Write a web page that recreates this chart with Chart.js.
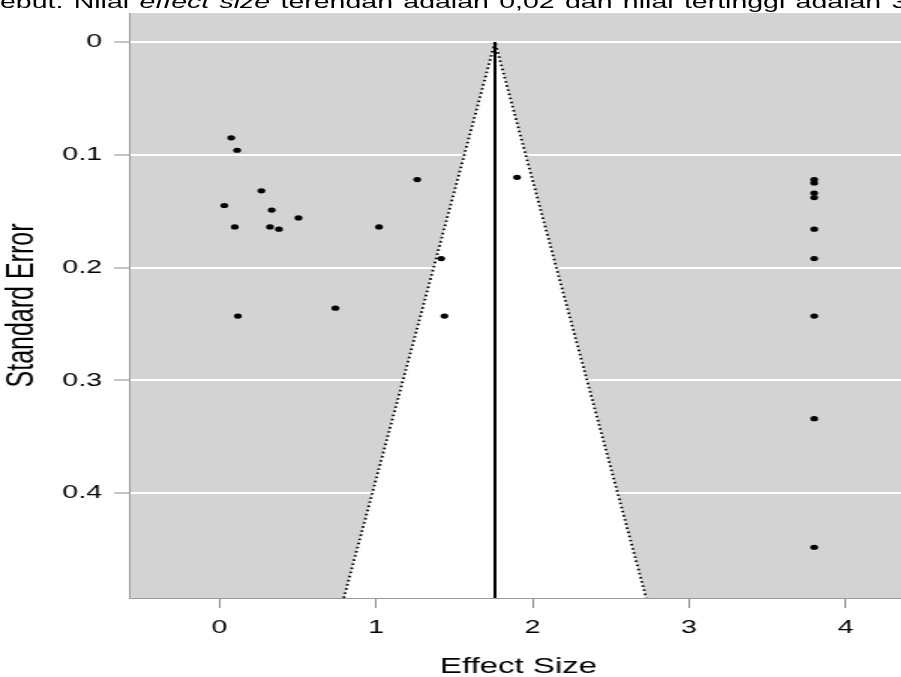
<!DOCTYPE html>
<html>
<head>
<meta charset="utf-8">
<script src="https://cdn.jsdelivr.net/npm/chart.js@4.4.1/dist/chart.umd.min.js"></script>
<style>
  html, body { margin: 0; padding: 0; background: #ffffff; overflow: hidden; width: 901px; height: 677px; }
  #stage { position: absolute; left: 0; top: 0; width: 608px; height: 677px; transform: scale(1.5, 1); transform-origin: 0 0; }
  #note { position: absolute; left: 0; top: -8.5px; white-space: nowrap; font-family: "Liberation Sans", Arial, sans-serif; font-size: 19px; line-height: 19px; color: #000; word-spacing: 1.6px; }
  #c { position: absolute; left: 0; top: 0; }
</style>
</head>
<body>
<div id="stage">
  <canvas id="c" width="608" height="677"></canvas>
  <div id="note">ebut. Nilai <i>effect size</i> terendah adalah 0,02 dan nilai tertinggi adalah 3,80</div>
</div>
<script>
// ---- data ----
const effectSize = [0.074, 0.112, 1.263, 1.901, 0.267, 0.030, 0.333, 0.504, 0.097, 0.322, 0.379, 1.019, 1.416, 0.117, 0.740, 1.437,
                    3.80, 3.80, 3.80, 3.80, 3.80, 3.80, 3.80, 3.80, 3.80];
const standardError = [0.085, 0.096, 0.122, 0.120, 0.132, 0.145, 0.149, 0.156, 0.164, 0.164, 0.166, 0.164, 0.192, 0.243, 0.236, 0.243,
                       0.122, 0.125, 0.134, 0.138, 0.166, 0.192, 0.243, 0.334, 0.448];
const pooledEffect = 1.76;
const seAxisMax = 0.493;
const seAxisMin = -0.0257;
const esAxisMin = -0.579;
const esAxisMax = 4.4;
const xTickValues = [0, 1, 2, 3, 4];
const yTickValues = [0, 0.1, 0.2, 0.3, 0.4];
const xTitle = 'Effect Size';
const yTitle = 'Standard Error';

const points = effectSize.map((x, i) => ({ x: x, y: standardError[i] }));
const funnel = [
  { x: pooledEffect - 1.96 * seAxisMax, y: seAxisMax },
  { x: pooledEffect, y: 0 },
  { x: pooledEffect + 1.96 * seAxisMax, y: seAxisMax }
];
const centerLine = [{ x: pooledEffect, y: 0 }, { x: pooledEffect, y: seAxisMax }];

const greyBg = {
  id: 'greyBg',
  beforeDraw(chart) {
    const { ctx, chartArea: a } = chart;
    ctx.save();
    ctx.fillStyle = '#d3d3d3';
    ctx.fillRect(a.left, a.top, a.right - a.left, a.bottom - a.top);
    ctx.restore();
  }
};

const noPad = (s) => { s.paddingTop = 0; s.paddingBottom = 0; s.paddingLeft = 0; s.paddingRight = 0; };
const fmt = (v) => String(Math.round(v * 10) / 10);
const FONT = '"Liberation Sans", Arial, sans-serif';

new Chart(document.getElementById('c'), {
  type: 'scatter',
  data: {
    datasets: [
      {
        label: 'studies',
        data: points,
        showLine: false,
        pointRadius: 2.6,
        pointHoverRadius: 2.6,
        pointBackgroundColor: '#000',
        pointBorderColor: '#000',
        pointBorderWidth: 0
      },
      {
        label: 'pooled',
        data: centerLine,
        showLine: true,
        borderColor: '#000',
        borderWidth: 2,
        pointRadius: 0,
        fill: false
      },
      {
        label: 'funnel',
        data: funnel,
        showLine: true,
        borderColor: '#000',
        borderWidth: 1.8,
        borderDash: [1.6, 2.6],
        pointRadius: 0,
        tension: 0,
        backgroundColor: '#ffffff',
        fill: { value: seAxisMax }
      }
    ]
  },
  options: {
    responsive: false,
    animation: false,
    devicePixelRatio: 1,
    layout: { padding: { top: 13, left: 0, right: 0, bottom: 0 } },
    plugins: { legend: { display: false }, tooltip: { enabled: false } },
    scales: {
      x: {
        type: 'linear',
        min: esAxisMin,
        max: esAxisMax,
        afterBuildTicks: (s) => { s.ticks = xTickValues.map(v => ({ value: v })); },
        afterFit: (s) => { s.height = 79; noPad(s); },
        grid: { drawOnChartArea: false, drawTicks: true, tickLength: 10, tickColor: '#8a8a8a', tickWidth: 1 },
        border: { display: true, color: '#9a9a9a', width: 1, z: 1 },
        ticks: { color: '#000', padding: 8, maxRotation: 0, font: { family: FONT, size: 19 }, callback: (v) => fmt(v) },
        title: { display: true, text: xTitle, color: '#000', font: { family: FONT, size: 22, lineHeight: 1 }, padding: { top: 0, bottom: -1 } }
      },
      y: {
        type: 'linear',
        reverse: true,
        min: seAxisMin,
        max: seAxisMax,
        afterBuildTicks: (s) => { s.ticks = yTickValues.map(v => ({ value: v })); },
        afterFit: (s) => { s.width = 86; noPad(s); },
        grid: { color: '#ffffff', lineWidth: 2, drawTicks: true, tickLength: 10, tickColor: '#8a8a8a', tickWidth: 1 },
        border: { display: true, color: '#9a9a9a', width: 1, z: 1 },
        ticks: { color: '#000', padding: 8, font: { family: FONT, size: 19 }, callback: (v) => fmt(v) },
        title: { display: true, text: yTitle, color: '#000', font: { family: FONT, size: 25, lineHeight: 1.2 }, padding: { top: 0, bottom: 0 } }
      }
    }
  },
  plugins: [greyBg]
});
</script>
</body>
</html>
